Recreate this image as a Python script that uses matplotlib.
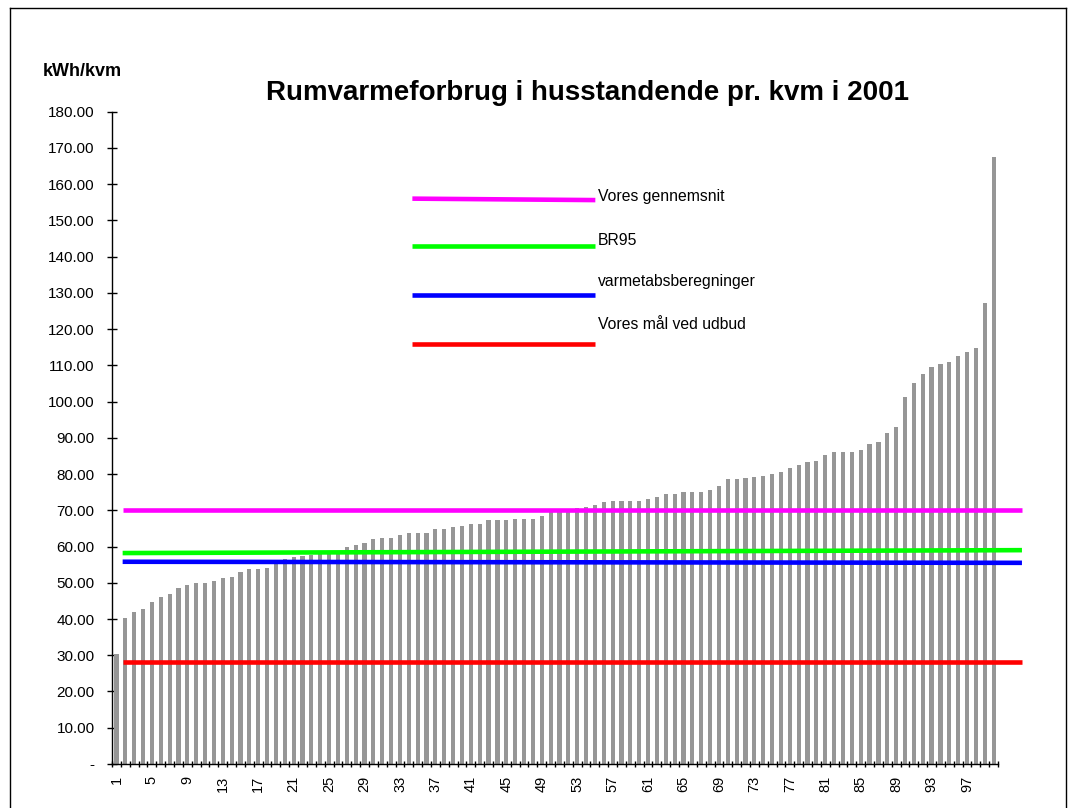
import numpy as np
import matplotlib
matplotlib.use("Agg")
import matplotlib.pyplot as plt
from matplotlib.lines import Line2D
from matplotlib.ticker import FixedLocator

plt.rcParams['font.family'] = ['Liberation Sans', 'DejaVu Sans']

# consumption per household (sorted), kWh/kvm
values = [30.3, 40.3, 42.0, 42.8, 44.7, 46.1, 46.9, 48.6, 49.4, 49.9,
          49.9, 50.5, 51.3, 51.6, 53.0, 53.8, 53.8, 54.1, 55.4, 56.6,
          57.0, 57.5, 57.8, 58.1, 58.4, 58.7, 59.9, 60.5, 61.0, 62.1,
          62.4, 62.4, 63.2, 63.8, 63.8, 63.8, 64.9, 64.9, 65.4, 65.7,
          66.3, 66.3, 67.4, 67.4, 67.4, 67.7, 67.7, 67.7, 68.3, 69.5,
          69.8, 70.2, 70.6, 71.0, 71.5, 72.3, 72.6, 72.6, 72.6, 72.6,
          73.2, 73.7, 74.5, 74.5, 75.1, 75.1, 75.1, 75.6, 76.7, 78.7,
          78.7, 78.9, 79.2, 79.5, 80.1, 80.6, 81.7, 82.6, 83.4, 83.7,
          85.3, 86.2, 86.2, 86.2, 86.7, 88.4, 88.9, 91.4, 93.1, 101.4,
          105.2, 107.7, 109.6, 110.5, 110.8, 112.7, 113.8, 114.9, 127.3, 167.4]
households = list(range(1, len(values) + 1))

# reference levels (drawn as lines, slightly sloped in the original)
ref_names = ["Vores gennemsnit", "BR95", "varmetabsberegninger", "Vores mål ved udbud"]
ref_colors = ["#FF00FF", "#00FF00", "#0000FF", "#FF0000"]
ref_left = [70.0, 58.2, 55.8, 28.2]
ref_right = [70.0, 59.0, 55.5, 28.2]
key_left = [156.0, 143.0, 129.4, 116.0]
key_right = [155.6, 143.0, 129.4, 116.0]
key_text_y = [156.6, 144.5, 133.0, 121.4]

yticks = np.arange(0, 181, 10)
ytick_labels = ["-"] + [f"{v:.2f}" for v in yticks[1:]]

fig = plt.figure(figsize=(10.75, 8.08), dpi=100)
ax = fig.add_axes([0.1042, 0.0545, 0.8242, 0.8073])

x = np.arange(len(values))
ax.bar(x, values, width=0.47, color="#969696", zorder=2)

for name, c, yl, yr, kl, kr, ty in zip(ref_names, ref_colors, ref_left, ref_right,
                                       key_left, key_right, key_text_y):
    ax.plot([0.7, 102.2], [yl, yr], color=c, lw=3.3, clip_on=False, zorder=3,
            solid_capstyle='butt')
    ax.plot([33.4, 54.05], [kl, kr], color=c, lw=3.3, zorder=3, solid_capstyle='butt')
    ax.text(54.35, ty, name, fontsize=11.3, ha='left', va='center')

ax.set_xlim(-0.5, len(values) - 0.5)
ax.set_ylim(0, 180)

ax.set_yticks(yticks)
ax.set_yticklabels(ytick_labels, fontsize=11)
ax.tick_params(axis='y', direction='inout', length=7.2, width=1, pad=8.9)

lab_idx = x[::4]
ax.set_xticks(lab_idx)
ax.set_xticklabels([str(households[i]) for i in lab_idx], rotation=90, fontsize=10.5)
ax.tick_params(axis='x', which='major', length=0, pad=8.6)
ax.xaxis.set_minor_locator(FixedLocator(np.arange(-0.5, len(values), 1.0)))
ax.tick_params(axis='x', which='minor', direction='inout', length=4.3, width=1)

for s in ['top', 'right']:
    ax.spines[s].set_visible(False)
for s in ['left', 'bottom']:
    ax.spines[s].set_linewidth(1.0)

fig.text(588 / 1075, 1 - 93 / 808, "Rumvarmeforbrug i husstandende pr. kvm i 2001",
         fontsize=20, fontweight='bold', ha='center', va='center')
fig.text(43 / 1075, 1 - 71 / 808, "kWh/kvm", fontsize=13, fontweight='bold',
         ha='left', va='center')

# outer chart frame
fx0, fx1 = 10 / 1075, 1066 / 1075
fy1 = 1 - 8 / 808
fig.add_artist(Line2D([fx0, fx0], [0, fy1], color='black', lw=1, transform=fig.transFigure))
fig.add_artist(Line2D([fx0, fx1], [fy1, fy1], color='black', lw=1, transform=fig.transFigure))
fig.add_artist(Line2D([fx1, fx1], [0, fy1], color='black', lw=1, transform=fig.transFigure))

fig.savefig("out.png", dpi=100)
